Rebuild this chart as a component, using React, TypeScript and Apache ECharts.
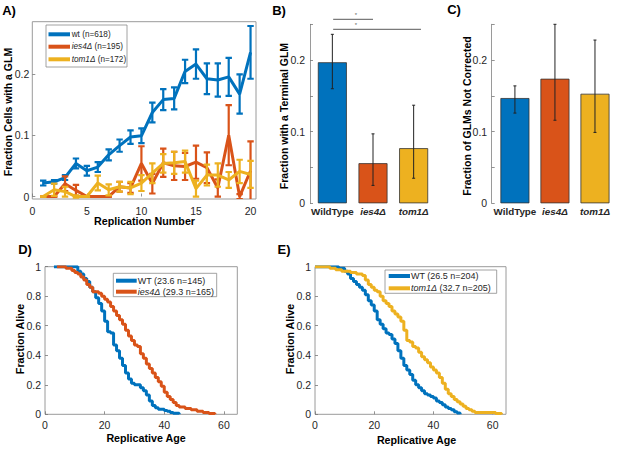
import React, { useEffect, useRef } from "react";
import * as echarts from "echarts";

// ---------- Panel A: fraction of cells with a GLM per replication ----------
const replication = [1, 2, 3, 4, 5, 6, 7, 8, 9, 10, 11, 12, 13, 14, 15, 16, 17, 18, 19, 20];
const wtFraction = [0.022, 0.024, 0.031, 0.054, 0.042, 0.048, 0.068, 0.083, 0.097, 0.099, 0.137, 0.158, 0.16, 0.204, 0.216, 0.192, 0.19, 0.195, 0.167, 0.235];
const wtError = [0.004, 0.003, 0.004, 0.008, 0.008, 0.008, 0.009, 0.01, 0.011, 0.012, 0.016, 0.017, 0.018, 0.019, 0.024, 0.025, 0.027, 0.031, 0.032, 0.043];
const ies4Fraction = [0, 0, 0.021, 0.01, 0, 0, 0, 0.016, 0.014, 0.054, 0.021, 0.055, 0.05, 0.049, 0.056, 0.047, 0.014, 0.1, 0, 0.042];
const ies4Error = [0, 0, 0.012, 0.009, 0, 0, 0, 0.008, 0.008, 0.028, 0.016, 0.023, 0.023, 0.022, 0.027, 0.025, 0.014, 0.049, 0.004, 0.048];
const tom1Fraction = [0, 0.011, 0.008, 0, 0, 0.022, 0.011, 0.016, 0.014, 0.022, 0.038, 0.054, 0.055, 0.057, 0.013, 0.035, 0.035, 0.027, 0.041, 0.036];
const tom1Error = [0, 0.01, 0.008, 0.002, 0, 0.012, 0.009, 0.008, 0.01, 0.013, 0.016, 0.015, 0.018, 0.018, 0.013, 0.017, 0.019, 0.013, 0.019, 0.022];

// ---------- Panels B and C: bars ----------
const genotypes = ["WildType", "ies4Δ", "tom1Δ"];
const terminalFraction = [0.197, 0.056, 0.077];
const terminalLow = [0.16, 0.025, 0.035];
const terminalHigh = [0.236, 0.097, 0.137];
const notCorrected = [0.147, 0.174, 0.153];
const notCorrectedLow = [0.126, 0.116, 0.099];
const notCorrectedHigh = [0.164, 0.25, 0.228];
// significance brackets in panel B: [from, to, level]
const sigBrackets = [
  [1.02, 2.0, 0.257],
  [1.02, 3.18, 0.243],
];

// ---------- Panel D: survival WT vs ies4Δ ----------
const dWtAge = [3, 11, 12, 13, 14, 15, 16, 17, 18, 19, 20, 21, 22, 23, 24, 25, 26, 27, 28, 29, 30, 31, 32, 33, 34, 35, 36, 37, 38, 40, 41, 42, 43, 45];
const dWtAlive = [1, 0.97, 0.95, 0.92, 0.9, 0.86, 0.83, 0.79, 0.75, 0.7, 0.63, 0.56, 0.55, 0.47, 0.43, 0.38, 0.33, 0.28, 0.24, 0.21, 0.2, 0.2, 0.18, 0.16, 0.13, 0.09, 0.06, 0.045, 0.035, 0.025, 0.02, 0.013, 0.007, 0];
const dIes4Age = [4, 7, 9, 10, 11, 12, 13, 14, 15, 16, 18, 19, 20, 21, 22, 23, 24, 25, 26, 27, 28, 29, 30, 31, 32, 33, 34, 35, 36, 37, 38, 39, 40, 41, 42, 43, 44, 45, 47, 49, 51, 53, 55, 57];
const dIes4Alive = [1, 0.99, 0.975, 0.96, 0.95, 0.93, 0.91, 0.88, 0.86, 0.83, 0.82, 0.8, 0.78, 0.76, 0.73, 0.7, 0.67, 0.64, 0.61, 0.57, 0.53, 0.5, 0.47, 0.46, 0.41, 0.38, 0.34, 0.31, 0.28, 0.25, 0.22, 0.19, 0.15, 0.12, 0.1, 0.08, 0.06, 0.05, 0.04, 0.03, 0.02, 0.012, 0.006, 0];

// ---------- Panel E: survival WT vs tom1Δ ----------
const eWtAge = [0, 7, 8, 10, 11, 12, 13, 14, 15, 16, 17, 18, 19, 20, 21, 22, 23, 24, 25, 26, 27, 28, 29, 30, 31, 32, 33, 34, 35, 36, 37, 38, 39, 40, 41, 42, 43, 44, 45, 46, 47, 48, 49];
const eWtAlive = [1, 1, 0.99, 0.97, 0.95, 0.92, 0.9, 0.88, 0.86, 0.84, 0.81, 0.77, 0.74, 0.7, 0.64, 0.61, 0.58, 0.55, 0.54, 0.51, 0.48, 0.43, 0.38, 0.33, 0.3, 0.27, 0.23, 0.2, 0.18, 0.16, 0.14, 0.13, 0.12, 0.11, 0.09, 0.08, 0.065, 0.05, 0.04, 0.03, 0.018, 0.008, 0];
const eTom1Age = [0, 5, 7, 9, 12, 14, 16, 17, 18, 19, 20, 21, 22, 23, 24, 25, 26, 27, 28, 29, 30, 31, 32, 33, 34, 35, 36, 37, 38, 39, 40, 41, 42, 43, 44, 45, 46, 47, 48, 49, 50, 51, 52, 53, 54, 61, 63];
const eTom1Alive = [1, 0.99, 0.98, 0.97, 0.96, 0.95, 0.94, 0.91, 0.88, 0.86, 0.84, 0.83, 0.8, 0.77, 0.75, 0.73, 0.7, 0.68, 0.66, 0.63, 0.57, 0.5, 0.49, 0.46, 0.45, 0.42, 0.39, 0.37, 0.35, 0.32, 0.3, 0.28, 0.25, 0.21, 0.17, 0.14, 0.12, 0.1, 0.085, 0.07, 0.055, 0.04, 0.03, 0.02, 0.012, 0.005, 0];

// tick values
const aXTicks = [0, 5, 10, 15, 20];
const aYTicks = [0, 0.1, 0.2];
const barYTicks = [0, 0.05, 0.1, 0.15, 0.2, 0.25];
const barYLabels = [0, 0.1, 0.2];
const survXTicks = [0, 20, 40, 60];
const survYTicks = [0, 0.2, 0.4, 0.6, 0.8, 1];

const BLUE = "#0072BD";
const ORANGE = "#D95319";
const YELLOW = "#EDB120";
const barColors = [BLUE, ORANGE, YELLOW];
const FONT = '"Liberation Sans", Arial, Helvetica, sans-serif';
const TICK_COLOR = "#262626";
const BOX = "#9a9a9a";

const fmt = (v: number) => String(+Number(v).toFixed(2));

function valAxis(gridIndex: number, min: number, max: number, ticks: number[], labels: number[], margin: number, extra: any = {}) {
  return {
    type: "value",
    gridIndex,
    min,
    max,
    splitLine: { show: false },
    axisLine: { show: false },
    axisTick: { show: true, inside: true, length: 3, lineStyle: { color: "#777", width: 0.8 }, customValues: ticks },
    axisLabel: { customValues: labels, margin, fontFamily: FONT, fontSize: 10.5, color: TICK_COLOR, formatter: (v: number) => fmt(v) },
    ...extra,
  };
}

function catLabelAxis(gridIndex: number, min: number, max: number) {
  return {
    type: "value",
    gridIndex,
    min,
    max,
    splitLine: { show: false },
    axisLine: { show: false },
    axisTick: { show: false },
    axisLabel: {
      customValues: [1, 2, 3],
      margin: 3,
      formatter: (v: number) => {
        const i = Math.round(v) - 1;
        return i === 0 ? `{b|${genotypes[i]}}` : `{i|${genotypes[i]}}`;
      },
      rich: {
        b: { fontFamily: FONT, fontSize: 9.8, fontWeight: "bold", color: TICK_COLOR },
        i: { fontFamily: FONT, fontSize: 9.8, fontWeight: "bold", fontStyle: "italic", color: TICK_COLOR },
      },
    },
  };
}

function errorBars(axisIndex: number, xs: number[], lo: number[], hi: number[], color: string, lw: number, cap: number, z: number, clip: boolean) {
  return {
    type: "custom",
    xAxisIndex: axisIndex,
    yAxisIndex: axisIndex,
    z,
    clip,
    silent: true,
    data: xs.map((x, i) => [x, lo[i], hi[i]]),
    encode: { x: 0, y: [1, 2] },
    renderItem: (_p: any, api: any) => {
      const x = api.value(0);
      const a = api.coord([x, api.value(1)]);
      const b = api.coord([x, api.value(2)]);
      const st = { stroke: color, lineWidth: lw, fill: null };
      return {
        type: "group",
        children: [
          { type: "line", shape: { x1: a[0], y1: a[1], x2: b[0], y2: b[1] }, style: st },
          { type: "line", shape: { x1: a[0] - cap, y1: a[1], x2: a[0] + cap, y2: a[1] }, style: st },
          { type: "line", shape: { x1: b[0] - cap, y1: b[1], x2: b[0] + cap, y2: b[1] }, style: st },
        ],
      };
    },
  };
}

function glmSeries(vals: number[], errs: number[], color: string, z: number) {
  return [
    errorBars(0, replication, vals.map((v, i) => v - errs[i]), vals.map((v, i) => v + errs[i]), color, 2.2, 3.2, z, true),
    {
      type: "line",
      xAxisIndex: 0,
      yAxisIndex: 0,
      z,
      symbol: "none",
      silent: true,
      data: replication.map((x, i) => [x, vals[i]]),
      lineStyle: { color, width: 3 },
    },
  ];
}

function survival(axisIndex: number, ages: number[], alive: number[], color: string, z: number) {
  return {
    type: "line",
    xAxisIndex: axisIndex,
    yAxisIndex: axisIndex,
    z,
    step: "end",
    symbol: "none",
    silent: true,
    data: ages.map((a, i) => [a, alive[i]]),
    lineStyle: { color, width: 3 },
  };
}

function barSeries(axisIndex: number, vals: number[]) {
  return {
    type: "bar",
    xAxisIndex: axisIndex,
    yAxisIndex: axisIndex,
    barWidth: 29,
    silent: true,
    data: vals.map((v, i) => ({ value: [i + 1, v], itemStyle: { color: barColors[i] } })),
    itemStyle: { borderColor: "#333", borderWidth: 0.8 },
  };
}

const txt = (text: string, x: number, y: number, size: number, opts: any = {}) => ({
  type: "text",
  x,
  y,
  rotation: opts.rot || 0,
  z: 100,
  silent: true,
  style: {
    text,
    fontFamily: FONT,
    fontSize: size,
    fontWeight: opts.weight || "bold",
    fill: opts.color || "#000",
    align: opts.align || "center",
    verticalAlign: "middle",
    rich: opts.rich,
  },
});

function legend(box: number[], lineX: number[], textX: number, rows: { y: number; color: string; text: string }[], size: number) {
  const items: any[] = [
    { type: "rect", z: 90, silent: true, shape: { x: box[0], y: box[1], width: box[2], height: box[3] }, style: { fill: "#fff", stroke: "#8a8a8a", lineWidth: 0.8 } },
  ];
  rows.forEach((r) => {
    items.push({ type: "line", z: 95, silent: true, shape: { x1: lineX[0], y1: r.y, x2: lineX[1], y2: r.y }, style: { stroke: r.color, lineWidth: 4 } });
    items.push(txt(r.text, textX, r.y, size, { weight: "normal", align: "left", color: TICK_COLOR, rich: { i: { fontStyle: "italic", fontFamily: FONT, fontSize: size, fill: TICK_COLOR } } }));
  });
  return items;
}

export default function App() {
  const ref = useRef<HTMLDivElement>(null);
  useEffect(() => {
    document.body.style.margin = "0";
    const chart = echarts.init(ref.current!, null, { renderer: "svg" });
    const option: any = {
      animation: false,
      grid: [
        { left: 32.3, top: 21.7, width: 223.7, height: 177.3, show: true, borderColor: BOX, borderWidth: 1, backgroundColor: "transparent" },
        { left: 310, top: 24.3, width: 126, height: 179 },
        { left: 491.7, top: 24.3, width: 127, height: 179 },
        { left: 45, top: 266.7, width: 192.3, height: 147.6, show: true, borderColor: BOX, borderWidth: 1, backgroundColor: "transparent" },
        { left: 315, top: 266.7, width: 191, height: 147.6, show: true, borderColor: BOX, borderWidth: 1, backgroundColor: "transparent" },
      ],
      xAxis: [
        valAxis(0, 0, 20.5, aXTicks, aXTicks, 6),
        catLabelAxis(1, 0.45, 3.55),
        catLabelAxis(2, 0.42, 3.55),
        valAxis(3, 0, 64.5, survXTicks, survXTicks, 5),
        valAxis(4, 0, 64.5, survXTicks, survXTicks, 5),
      ],
      yAxis: [
        valAxis(0, -0.004, 0.285, aYTicks, aYTicks, 3),
        valAxis(1, 0, 0.25, barYTicks, barYLabels, 5, { axisLine: { show: true, onZero: false, lineStyle: { color: BOX, width: 1 } } }),
        valAxis(2, 0, 0.25, barYTicks, barYLabels, 4.5, { axisLine: { show: true, onZero: false, lineStyle: { color: BOX, width: 1 } } }),
        valAxis(3, 0, 1, survYTicks, survYTicks, 4),
        valAxis(4, 0, 1, survYTicks, survYTicks, 4),
      ],
      series: [
        ...glmSeries(wtFraction, wtError, BLUE, 2),
        ...glmSeries(ies4Fraction, ies4Error, ORANGE, 3),
        ...glmSeries(tom1Fraction, tom1Error, YELLOW, 4),
        barSeries(1, terminalFraction),
        errorBars(1, [1, 2, 3], terminalLow, terminalHigh, "#222", 1, 1.5, 5, false),
        {
          type: "custom",
          xAxisIndex: 1,
          yAxisIndex: 1,
          clip: false,
          silent: true,
          z: 5,
          data: sigBrackets,
          encode: { x: [0, 1], y: 2 },
          renderItem: (_p: any, api: any) => {
            const a = api.coord([api.value(0), api.value(2)]);
            const b = api.coord([api.value(1), api.value(2)]);
            return {
              type: "group",
              children: [
                { type: "line", shape: { x1: a[0], y1: a[1], x2: b[0], y2: b[1] }, style: { stroke: "#7a7a7a", lineWidth: 1.2 } },
                { type: "text", x: 356, y: a[1] - 1, style: { text: "*", fontFamily: FONT, fontSize: 6, fill: "#666", align: "center", verticalAlign: "bottom" } },
              ],
            };
          },
        },
        barSeries(2, notCorrected),
        errorBars(2, [1, 2, 3], notCorrectedLow, notCorrectedHigh, "#222", 1, 1.5, 5, false),
        survival(3, dWtAge, dWtAlive, BLUE, 2),
        survival(3, dIes4Age, dIes4Alive, ORANGE, 3),
        survival(4, eWtAge, eWtAlive, BLUE, 2),
        survival(4, eTom1Age, eTom1Alive, YELLOW, 3),
      ],
      graphic: [
        txt("A)", 9, 10, 13),
        txt("B)", 279, 10, 13),
        txt("C)", 454, 9.5, 13),
        txt("D)", 25, 249, 13),
        txt("E)", 284, 249, 13),
        txt("Fraction Cells with a GLM", 7.5, 112, 10.5, { rot: Math.PI / 2 }),
        txt("Replication Number", 144.5, 221, 10.7),
        txt("Fraction with a Terminal GLM", 283.5, 116, 10.5, { rot: Math.PI / 2 }),
        txt("Fraction of GLMs Not Corrected", 466.5, 116, 10.5, { rot: Math.PI / 2 }),
        txt("Fraction Alive", 19.5, 339, 10.7, { rot: Math.PI / 2 }),
        txt("Replicative Age", 146, 438, 10.7),
        txt("Fraction Alive", 290, 339, 10.7, { rot: Math.PI / 2 }),
        txt("Replicative Age", 416.5, 439.5, 10.7),
        ...legend([46, 25, 81, 42], [48.5, 70], 71.7, [
          { y: 34.3, color: BLUE, text: "wt (n=618)" },
          { y: 46.7, color: ORANGE, text: "{i|ies4Δ} (n=195)" },
          { y: 59.3, color: YELLOW, text: "{i|tom1Δ} (n=172)" },
        ], 8.2),
        ...legend([113.3, 273.3, 103.4, 23.4], [116, 136.7], 137.7, [
          { y: 280.7, color: BLUE, text: "WT (23.6 n=145)" },
          { y: 291.7, color: ORANGE, text: "{i|ies4Δ} (29.3 n=165)" },
        ], 9),
        ...legend([385, 270, 111.7, 23.3], [388.7, 410], 411, [
          { y: 276, color: BLUE, text: "WT (26.5 n=204)" },
          { y: 288.3, color: YELLOW, text: "{i|tom1Δ} (32.7 n=205)" },
        ], 9),
      ],
    };
    chart.setOption(option);
    return () => chart.dispose();
  }, []);
  return <div ref={ref} style={{ width: 617, height: 449 }} />;
}
